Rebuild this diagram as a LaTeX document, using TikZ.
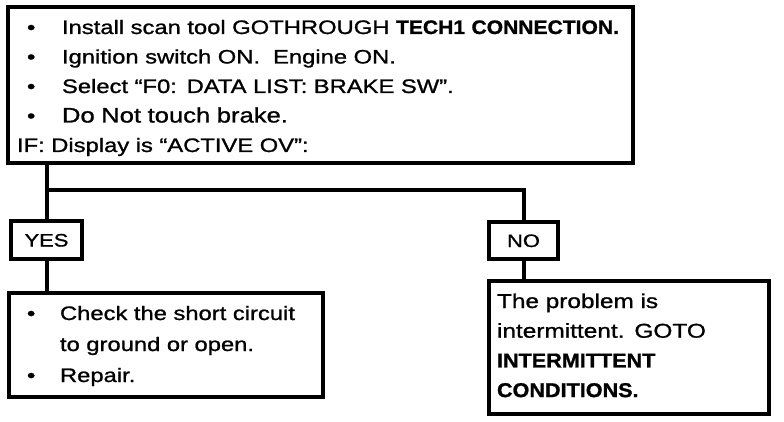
\documentclass[tikz,border=0pt]{standalone}
\usepackage{fontspec}
\setmainfont{Liberation Sans}[FakeBold=1.1,
  UprightFeatures={FakeStretch=1.22},
  BoldFeatures={FakeStretch=1.08}]
\newcommand\topbul[1]{\mbox{\hspace*{10pt}\makebox[35pt][l]{\textbullet}#1}}
\newcommand\resbul[1]{\mbox{\hspace*{9pt}\makebox[33pt][l]{\textbullet}#1}}
\newcommand\resind[1]{\mbox{\hspace*{42pt}#1}}
\begin{document}
\begin{tikzpicture}[x=1pt,y=-1pt,
  box/.style={draw, line width=4pt, rectangle, outer sep=0pt, inner ysep=0pt,
    anchor=north west, align=left, text height=14pt},
  tag/.style={draw, line width=4pt, rectangle, outer sep=0pt, inner sep=0pt,
    anchor=north west, align=center, text height=13pt, text depth=0pt,
    font=\fontsize{18}{22}\selectfont},
  conn/.style={draw, line width=4pt}]
\useasboundingbox (0,0) rectangle (784,422);
\node[box, inner xsep=9pt, text width=607pt, minimum width=625pt, minimum height=156pt,
      text depth=116pt, font=\fontsize{19.5}{29.5}\selectfont] (top) at (8,7)
  {\topbul{Install scan tool GOTHROUGH \textbf{TECH1 CONNECTION.}}\\
   \topbul{Ignition switch ON.\ \ Engine ON.}\\
   \topbul{Select “F0: DATA LIST: BRAKE SW”.}\\
   \topbul{\fontsize{21}{29.5}\selectfont Do Not touch brake.}\\
   \mbox{IF: Display is “ACTIVE OV”:}};
\node[tag, minimum width=71pt, minimum height=38pt] (yes) at (11,221) {YES};
\node[tag, minimum width=69pt, minimum height=37pt] (no) at (489,222) {NO};
\node[box, inner xsep=9pt, text width=296pt, minimum width=314pt, minimum height=104pt,
      text depth=64pt, font=\fontsize{19.5}{31}\selectfont] (yesres) at (9,293)
  {\resbul{Check the short circuit}\\
   \resind{to ground or open.}\\
   \resbul{Repair.}};
\node[box, inner xsep=8pt, text width=264pt, minimum width=280pt, minimum height=133pt,
      text depth=93pt, font=\fontsize{20}{29.7}\selectfont] (nores) at (489,281)
  {The problem is\\
   \mbox{intermittent. GOTO}\\
   \textbf{INTERMITTENT}\\
   \textbf{CONDITIONS.}};
\coordinate (j) at (0,190);
\draw[conn] (top.south -| yes.north) -- (yes.north);
\draw[conn] (j -| yes.north) -| (no.north);
\draw[conn] (yes.south) -- (yesres.north -| yes.south);
\draw[conn] (no.south) -- (nores.north -| no.south);
\end{tikzpicture}
\end{document}
